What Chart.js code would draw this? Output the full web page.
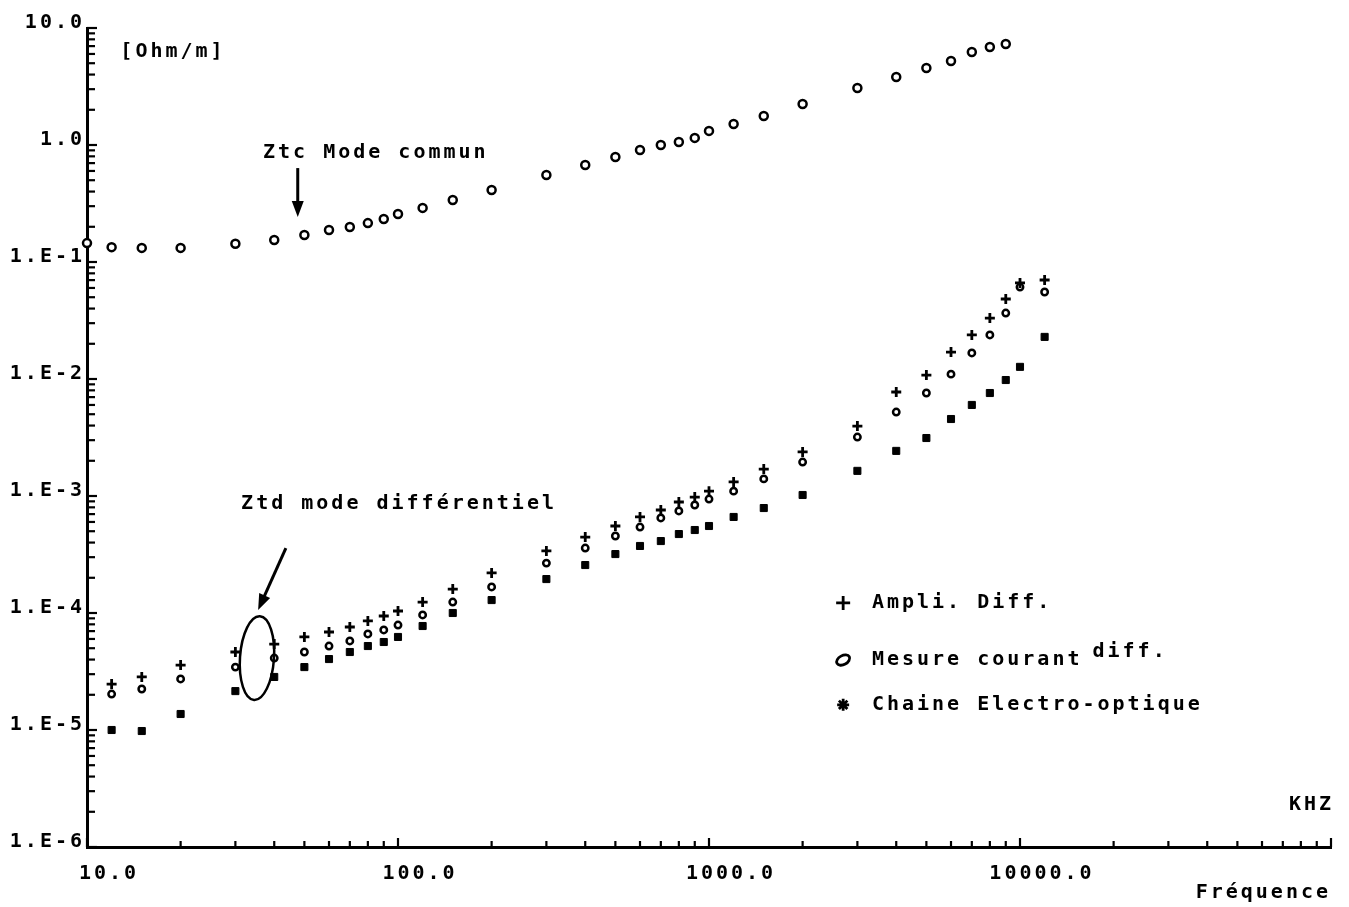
<!DOCTYPE html>
<html>
<head>
<meta charset="utf-8">
<script src="https://cdn.jsdelivr.net/npm/chart.js@4.4.0/dist/chart.umd.min.js"></script>
<style>
html, body { margin: 0; padding: 0; background: #fff; }
canvas { display: block; }
</style>
</head>
<body>
<canvas id="chart" width="1349" height="907"></canvas>
<script>
// Frequences en kHz
var freqCommun = [10, 12, 15, 20, 30, 40, 50, 60, 70, 80, 90, 100, 120, 150, 200, 300, 400, 500, 600, 700, 800, 900, 1000, 1200, 1500, 2000, 3000, 4000, 5000, 6000, 7000, 8000, 9000];
var ztcCommun = [0.145, 0.134, 0.132, 0.132, 0.143, 0.154, 0.170, 0.188, 0.199, 0.215, 0.233, 0.257, 0.290, 0.339, 0.412, 0.555, 0.675, 0.789, 0.906, 1.00, 1.06, 1.15, 1.32, 1.51, 1.77, 2.24, 3.07, 3.81, 4.55, 5.22, 6.24, 6.88, 7.30];

var freqDiff = [12, 15, 20, 30, 40, 50, 60, 70, 80, 90, 100, 120, 150, 200, 300, 400, 500, 600, 700, 800, 900, 1000, 1200, 1500, 2000, 3000, 4000, 5000, 6000, 7000, 8000, 9000, 10000, 12000];
var ztdAmpli = [2.47e-5, 2.84e-5, 3.59e-5, 4.64e-5, 5.43e-5, 6.24e-5, 6.88e-5, 7.59e-5, 8.55e-5, 9.43e-5, 1.04e-4, 1.24e-4, 1.60e-4, 2.20e-4, 3.39e-4, 4.46e-4, 5.54e-4, 6.62e-4, 7.59e-4, 8.89e-4, 9.80e-4, 1.10e-3, 1.32e-3, 1.70e-3, 2.38e-3, 3.96e-3, 7.74e-3, 1.08e-2, 1.70e-2, 2.38e-2, 3.32e-2, 4.83e-2, 6.62e-2, 7.02e-2];
var ztdMesure = [2.03e-5, 2.24e-5, 2.73e-5, 3.45e-5, 4.12e-5, 4.64e-5, 5.22e-5, 5.77e-5, 6.62e-5, 7.16e-5, 7.89e-5, 9.62e-5, 1.24e-4, 1.67e-4, 2.67e-4, 3.59e-4, 4.55e-4, 5.43e-4, 6.49e-4, 7.45e-4, 8.38e-4, 9.42e-4, 1.10e-3, 1.40e-3, 1.95e-3, 3.19e-3, 5.22e-3, 7.59e-3, 1.10e-2, 1.67e-2, 2.38e-2, 3.66e-2, 6.11e-2, 5.54e-2];
var ztdChaine = [1.0e-5, 9.8e-6, 1.37e-5, 2.15e-5, 2.84e-5, 3.45e-5, 4.04e-5, 4.64e-5, 5.22e-5, 5.65e-5, 6.24e-5, 7.74e-5, 1.0e-4, 1.29e-4, 1.95e-4, 2.57e-4, 3.19e-4, 3.74e-4, 4.12e-4, 4.73e-4, 5.12e-4, 5.54e-4, 6.62e-4, 7.89e-4, 1.02e-3, 1.64e-3, 2.43e-3, 3.13e-3, 4.55e-3, 6.00e-3, 7.59e-3, 9.80e-3, 1.27e-2, 2.29e-2];

var xTicks = [10, 100, 1000, 10000];
var yTicks = [1e-6, 1e-5, 1e-4, 1e-3, 1e-2, 1e-1, 1, 10];

var legendLabels = ['Ampli. Diff.', 'Mesure courant', 'Chaine Electro-optique'];
var legendSup = ['', 'diff.', ''];

var FONT = '"DejaVu Sans Mono", "Liberation Mono", monospace';
var FSIZE = 20;
var SPACING = '3px';

function pts(xs, ys) {
    return xs.map(function (x, i) { return {x: x, y: ys[i]}; });
}

function arrow(ctx, x1, y1, x2, y2) {
    var ang = Math.atan2(y2 - y1, x2 - x1);
    ctx.beginPath();
    ctx.moveTo(x1, y1);
    ctx.lineTo(x2 - 10 * Math.cos(ang), y2 - 10 * Math.sin(ang));
    ctx.stroke();
    ctx.beginPath();
    ctx.moveTo(x2, y2);
    ctx.lineTo(x2 - 16 * Math.cos(ang) + 6 * Math.sin(ang), y2 - 16 * Math.sin(ang) - 6 * Math.cos(ang));
    ctx.lineTo(x2 - 16 * Math.cos(ang) - 6 * Math.sin(ang), y2 - 16 * Math.sin(ang) + 6 * Math.cos(ang));
    ctx.closePath();
    ctx.fill();
}

var decor = {
    id: 'decor',
    beforeDraw: function (chart) {
        chart.ctx.letterSpacing = SPACING;
    },
    afterDraw: function (chart) {
        var ctx = chart.ctx, xs = chart.scales.x, ys = chart.scales.y, a = chart.chartArea;
        function P(f, v) { return {x: xs.getPixelForValue(f), y: ys.getPixelForValue(v)}; }
        ctx.save();
        ctx.strokeStyle = '#000';
        ctx.fillStyle = '#000';
        ctx.lineWidth = 2.2;

        // petites graduations
        var e, m, v, p;
        for (e = -6; e <= 1; e++) {
            for (m = 1; m <= 9; m++) {
                v = m * Math.pow(10, e);
                if (v > 10.0001) break;
                p = ys.getPixelForValue(v);
                ctx.beginPath();
                ctx.moveTo(a.left, p);
                ctx.lineTo(a.left + (m === 1 ? 10 : 8), p);
                ctx.stroke();
            }
        }
        for (e = 1; e <= 5; e++) {
            for (m = 1; m <= 9; m++) {
                v = m * Math.pow(10, e);
                if (v > 100001) break;
                p = xs.getPixelForValue(v);
                ctx.beginPath();
                ctx.moveTo(p, a.bottom);
                ctx.lineTo(p, a.bottom - (m === 1 ? 9 : 6));
                ctx.stroke();
            }
        }

        ctx.font = 'bold ' + FSIZE + 'px ' + FONT;
        ctx.textBaseline = 'middle';
        ctx.textAlign = 'left';
        ctx.letterSpacing = SPACING;

        p = P(12.8, 6.24);
        ctx.fillText('[Ohm/m]', p.x, p.y);
        p = P(36.8, 0.855);
        ctx.fillText('Ztc Mode commun', p.x, p.y);
        p = P(31.3, 8.55e-4);
        ctx.fillText('Ztd mode différentiel', p.x, p.y);

        ctx.lineWidth = 3;
        var p1 = P(47.6, 0.635), p2 = P(47.6, 0.243);
        arrow(ctx, p1.x, p1.y, p2.x, p2.y);
        p1 = P(43.6, 3.59e-4); p2 = P(35.5, 1.06e-4);
        arrow(ctx, p1.x, p1.y, p2.x, p2.y);

        ctx.lineWidth = 2.5;
        p = P(35.2, 4.12e-5);
        ctx.beginPath();
        ctx.ellipse(p.x, p.y, 17, 42, 0.07, 0, Math.PI * 2);
        ctx.stroke();

        // legende
        var rows = [1.22e-4, 3.96e-5, 1.64e-5];
        rows.forEach(function (rv, i) {
            var s = P(2700, rv), t = P(3340, rv);
            ctx.lineWidth = 2.8;
            if (i === 0) {
                ctx.beginPath();
                ctx.moveTo(s.x - 7, s.y); ctx.lineTo(s.x + 7, s.y);
                ctx.moveTo(s.x, s.y - 7); ctx.lineTo(s.x, s.y + 7);
                ctx.stroke();
            } else if (i === 1) {
                ctx.beginPath();
                ctx.ellipse(s.x, s.y, 7, 4.5, -0.5, 0, Math.PI * 2);
                ctx.stroke();
            } else {
                ctx.beginPath();
                for (var k = 0; k < 4; k++) {
                    var an = k * Math.PI / 4;
                    ctx.moveTo(s.x - 6 * Math.cos(an), s.y - 6 * Math.sin(an));
                    ctx.lineTo(s.x + 6 * Math.cos(an), s.y + 6 * Math.sin(an));
                }
                ctx.stroke();
            }
            ctx.fillText(legendLabels[i], t.x, t.y);
            if (legendSup[i]) {
                var w = ctx.measureText(legendLabels[i] + ' ').width;
                ctx.fillText(legendSup[i], t.x + w - 5, t.y - 8);
            }
        });

        ctx.textAlign = 'right';
        ctx.fillText('KHZ', a.right + 3, a.bottom - 42);
        ctx.restore();
    }
};

var config = {
    type: 'scatter',
    data: {
        datasets: [{
            label: 'Ztc Mode commun',
            data: pts(freqCommun, ztcCommun),
            pointStyle: 'circle',
            pointRadius: 4,
            borderWidth: 2.5,
            borderColor: '#000',
            backgroundColor: '#fff',
            clip: false
        }, {
            label: legendLabels[0],
            data: pts(freqDiff, ztdAmpli),
            pointStyle: 'cross',
            pointRadius: 5,
            borderWidth: 2.8,
            borderColor: '#000',
            backgroundColor: '#000',
            clip: false
        }, {
            label: legendLabels[1],
            data: pts(freqDiff, ztdMesure),
            pointStyle: 'circle',
            pointRadius: 3.2,
            borderWidth: 2.5,
            borderColor: '#000',
            backgroundColor: '#fff',
            clip: false
        }, {
            label: legendLabels[2],
            data: pts(freqDiff, ztdChaine),
            pointStyle: 'rect',
            pointRadius: 5,
            borderWidth: 1,
            borderColor: '#000',
            backgroundColor: '#000',
            clip: false
        }]
    },
    options: {
        responsive: false,
        animation: false,
        events: [],
        layout: { padding: { top: 28, right: 18, left: 0, bottom: 0 } },
        plugins: {
            legend: { display: false },
            tooltip: { enabled: false }
        },
        scales: {
            x: {
                type: 'logarithmic',
                min: 10,
                max: 100000,
                grid: { display: false, drawTicks: false },
                border: { display: true, color: '#000', width: 3 },
                afterBuildTicks: function (s) {
                    s.ticks = xTicks.map(function (v) { return {value: v}; });
                },
                afterFit: function (s) { s.height = 60; },
                ticks: {
                    autoSkip: false,
                    maxRotation: 0,
                    padding: 15,
                    labelOffset: 22,
                    color: '#000',
                    font: { family: FONT, size: FSIZE, weight: 'bold' },
                    callback: function (v) { return Number(v).toFixed(1); }
                },
                title: {
                    display: true,
                    text: 'Fréquence',
                    align: 'end',
                    color: '#000',
                    font: { family: FONT, size: FSIZE, weight: 'bold' },
                    padding: { top: 0, bottom: 2 }
                }
            },
            y: {
                type: 'logarithmic',
                min: 1e-6,
                max: 10,
                grid: { display: false, drawTicks: false },
                border: { display: true, color: '#000', width: 3 },
                afterBuildTicks: function (s) {
                    s.ticks = yTicks.map(function (v) { return {value: v}; });
                },
                afterFit: function (s) { s.width = 87; },
                ticks: {
                    autoSkip: false,
                    padding: 2,
                    labelOffset: -5,
                    color: '#000',
                    font: { family: FONT, size: FSIZE, weight: 'bold' },
                    callback: function (v) {
                        if (v >= 1) return Number(v).toFixed(1);
                        return '1.E' + Math.round(Math.log10(v));
                    }
                }
            }
        }
    },
    plugins: [decor]
};

var chart = new Chart(document.getElementById('chart').getContext('2d'), config);
</script>
</body>
</html>
